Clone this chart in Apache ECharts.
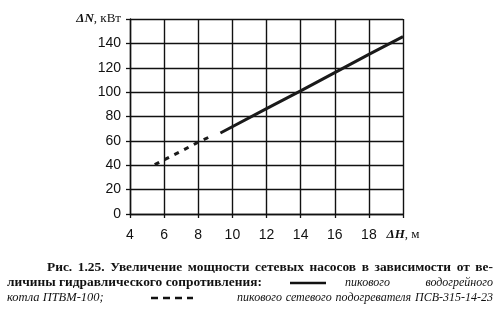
<!DOCTYPE html>
<html><head><meta charset="utf-8">
<script src="https://cdn.jsdelivr.net/npm/echarts@6/dist/echarts.min.js"></script>
<style>html,body{margin:0;padding:0;background:#fff}#c{width:497px;height:323px}</style>
</head><body><div id="c"></div>
<script>
const xTicks = [4, 6, 8, 10, 12, 14, 16, 18, 20];
const yTicks = [0, 20, 40, 60, 80, 100, 120, 140, 160];
const xName = 'ΔH';
const xUnit = ', м';
const yName = 'ΔN';
const yUnit = ', кВт';
// пикового сетевого подогревателя ПСВ-315-14-23 (dashed)
const dashedX = [5.45, 6, 7, 8, 8.7];
const dashedY = [40.5, 44.5, 51.5, 59, 63.5];
// пикового водогрейного котла ПТВМ-100 (solid)
const solidX = [9.3, 12, 14, 16, 18, 20];
const solidY = [66.5, 86.5, 101, 116, 131, 145.5];
const captionLine1 = 'Рис. 1.25. Увеличение мощности сетевых насосов в зависимости от ве-';
const captionLine2a = 'личины гидравлического сопротивления:';
const captionLine2b = 'пикового';
const captionLine2c = 'водогрейного';
const captionLine3a = 'котла ПТВМ-100;';
const captionLine3b = 'пикового сетевого подогревателя ПСВ-315-14-23';

const zip = (a, b) => a.map((v, i) => [v, b[i]]);
const chart = echarts.init(document.getElementById('c'), null, {renderer: 'canvas'});
const serif = '"Liberation Serif", "DejaVu Serif", serif';
const sans = '"Liberation Sans", Arial, sans-serif';
const ink = '#111';
const boldFont = 'bold 13.4px ' + serif;
const italFont = 'italic 12px ' + serif;

const ctx = document.createElement('canvas').getContext('2d');
function measure(t, font) { ctx.font = font; return ctx.measureText(t).width; }
// place words of a line so that it spans x0..x1 (justified)
function justify(text, font, x0, x1, y) {
  const words = text.split(' ');
  const widths = words.map(w => measure(w, font));
  const total = widths.reduce((a, b) => a + b, 0);
  const gap = words.length > 1 ? (x1 - x0 - total) / (words.length - 1) : 0;
  let x = x0;
  return words.map((w, i) => {
    const el = {type: 'text', x: x, y: y, style: {text: w, font: font, fill: ink, textVerticalAlign: 'middle', textAlign: 'left'}};
    x += widths[i] + gap;
    return el;
  });
}
function plain(text, font, x, y, align) {
  return {type: 'text', x: x, y: y, style: {text: text, font: font, fill: ink, textVerticalAlign: 'middle', textAlign: align || 'left'}};
}

const graphics = [].concat(
  justify(captionLine1, boldFont, 47, 493, 268),
  [plain(captionLine2a, boldFont, 7, 283)],
  [{type: 'line', shape: {x1: 290, y1: 283, x2: 326, y2: 283}, style: {stroke: ink, lineWidth: 2.5}}],
  [plain(captionLine2b, italFont, 345, 283)],
  [plain(captionLine2c, italFont, 493, 283, 'right')],
  [plain(captionLine3a, 'italic 12.5px ' + serif, 7, 298)],
  [{type: 'line', shape: {x1: 151, y1: 298, x2: 193, y2: 298}, style: {stroke: ink, lineWidth: 2.5, lineDash: [7, 5]}}],
  justify(captionLine3b, italFont, 237, 493, 298)
);

chart.setOption({
  animation: false,
  grid: {left: 130, right: 94, top: 19, height: 195, containLabel: false},
  xAxis: {
    type: 'value', min: xTicks[0], max: xTicks[xTicks.length - 1], interval: 2,
    axisLine: {show: true, lineStyle: {color: ink, width: 1.4}},
    axisTick: {show: true, length: 4, lineStyle: {color: ink, width: 1.3}},
    splitLine: {show: true, lineStyle: {color: ink, width: 1.4}},
    axisLabel: {
      margin: 14, color: ink, fontFamily: sans, fontSize: 14,
      formatter: v => v === xTicks[xTicks.length - 1] ? '{n|' + xName + '}{u|' + xUnit + '}' : String(v),
      rich: {
        n: {fontFamily: serif, fontStyle: 'italic', fontWeight: 'bold', fontSize: 13, color: ink},
        u: {fontFamily: serif, fontSize: 13, color: ink}
      }
    }
  },
  yAxis: {
    type: 'value', min: yTicks[0], max: yTicks[yTicks.length - 1], interval: 20,
    axisLine: {show: true, lineStyle: {color: ink, width: 1.4}},
    axisTick: {show: true, length: 4, lineStyle: {color: ink, width: 1.3}},
    splitLine: {show: true, lineStyle: {color: ink, width: 1.4}},
    axisLabel: {
      margin: 9, color: ink, fontFamily: sans, fontSize: 14,
      formatter: v => v === yTicks[yTicks.length - 1] ? '{n|' + yName + '}{u|' + yUnit + '}' : String(v),
      rich: {
        n: {fontFamily: serif, fontStyle: 'italic', fontWeight: 'bold', fontSize: 13, color: ink},
        u: {fontFamily: serif, fontSize: 13, color: ink}
      }
    }
  },
  series: [
    {type: 'line', data: zip(dashedX, dashedY), symbol: 'none',
     lineStyle: {color: '#1a1a1a', width: 3, type: [5, 6]}},
    {type: 'line', data: zip(solidX, solidY), symbol: 'none',
     lineStyle: {color: '#1a1a1a', width: 3, type: 'solid'}}
  ],
  graphic: graphics
});
</script></body></html>
